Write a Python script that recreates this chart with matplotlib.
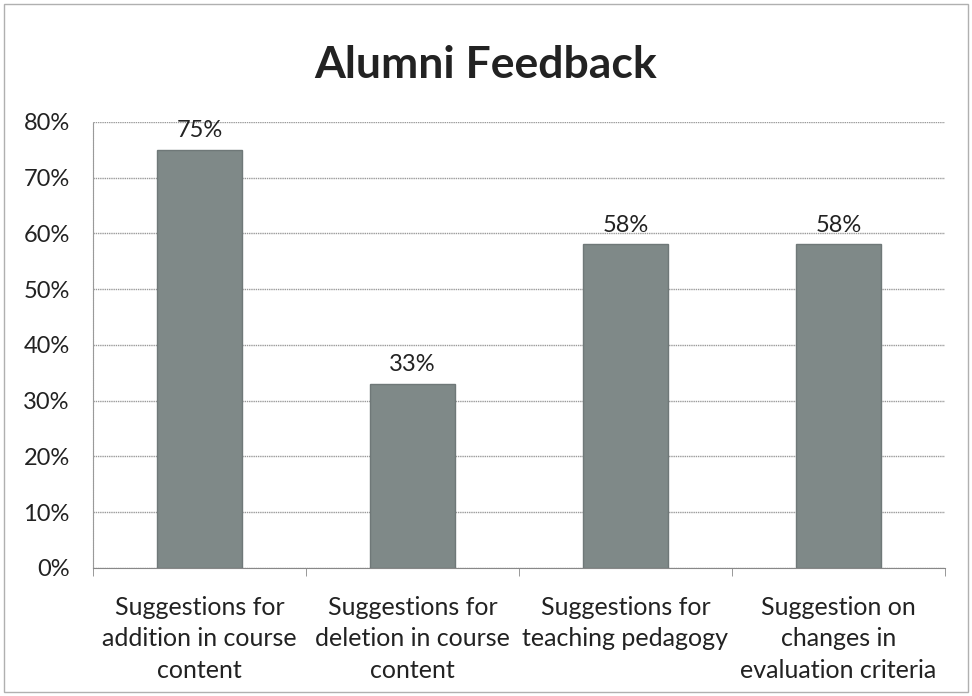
import matplotlib.pyplot as plt
from matplotlib.patches import Rectangle
from matplotlib.ticker import FixedLocator, PercentFormatter

categories = [
    "Suggestions for\naddition in course\ncontent",
    "Suggestions for\ndeletion in course\ncontent",
    "Suggestions for\nteaching pedagogy",
    "Suggestion on\nchanges in\nevaluation criteria",
]
values = [75, 33, 58, 58]
y_ticks = [0, 10, 20, 30, 40, 50, 60, 70, 80]

plt.rcParams["font.family"] = ["Lato", "DejaVu Sans"]

fig = plt.figure(figsize=(9.72, 6.96), dpi=100)
fig.patch.set_facecolor("white")
fig.patches.append(
    Rectangle((0.004, 0.006), 0.992, 0.988, transform=fig.transFigure,
              fill=False, edgecolor="#b0b0b0", linewidth=1.0)
)

ax = fig.add_axes([0.096, 0.184, 0.876, 0.641])
x = list(range(len(categories)))
ax.bar(x, values, width=0.4, color="#7f8988", edgecolor="#6f7878", zorder=3)

for xi, v in zip(x, values):
    ax.text(xi, v + 1.6, f"{v}%", ha="center", va="bottom",
            fontsize=17, color="#222222", zorder=4)

ax.set_xlim(-0.5, len(categories) - 0.5)
ax.set_ylim(0, 80)
ax.set_yticks(y_ticks)
ax.yaxis.set_major_formatter(PercentFormatter(decimals=0))
ax.tick_params(axis="y", length=0, labelsize=17, pad=17, colors="#222222")

ax.set_xticks(x)
ax.set_xticklabels(categories, fontsize=18, color="#222222", linespacing=1.45)
ax.tick_params(axis="x", which="major", length=0, pad=20)
ax.xaxis.set_minor_locator(FixedLocator([i - 0.5 for i in range(len(categories) + 1)]))
ax.tick_params(axis="x", which="minor", length=6, color="#888888")

ax.grid(axis="y", color="#9a9a9a", linewidth=1.0, linestyle=(0, (1, 0.6)), zorder=0)
for side in ["top", "right"]:
    ax.spines[side].set_visible(False)
ax.spines["left"].set_color("#9a9a9a")
ax.spines["left"].set_linestyle((0, (1, 0.6)))
ax.spines["bottom"].set_color("#888888")

fig.text(0.5, 0.907, "Alumni Feedback", ha="center", va="center",
         fontsize=32, fontweight="bold", color="#222222")

fig.savefig("out.png", dpi=100)
